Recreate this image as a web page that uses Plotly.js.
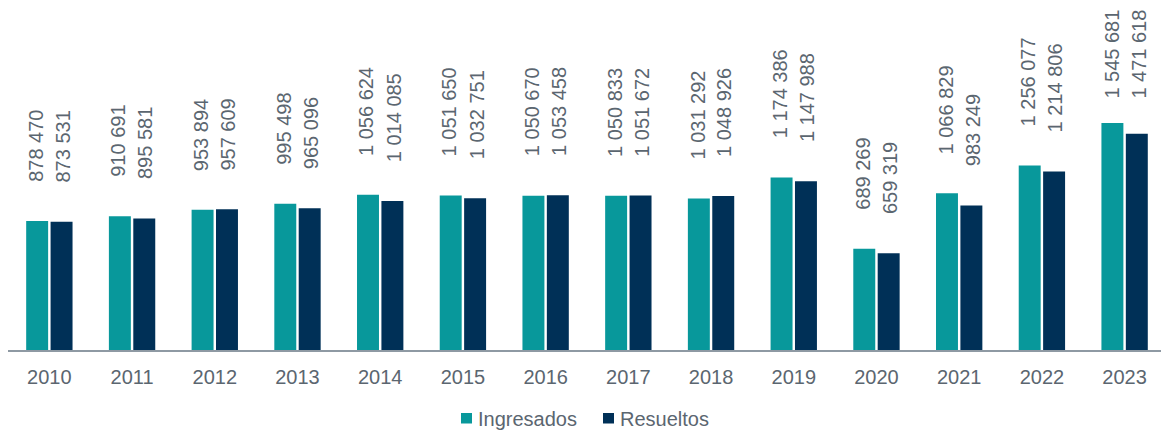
<!DOCTYPE html>
<html>
<head>
<meta charset="utf-8">
<script src="https://cdn.plot.ly/plotly-3.0.1.min.js"></script>
<style>html,body{margin:0;padding:0;background:#fff;}#chart{width:1161px;height:434px;}</style>
</head>
<body>
<div id="chart"></div>
<script>
const years = ['2010','2011','2012','2013','2014','2015','2016','2017','2018','2019','2020','2021','2022','2023'];
const ingresados = [878470, 910691, 953894, 995498, 1056624, 1051650, 1050670, 1050833, 1031292, 1174386, 689269, 1066829, 1256077, 1545681];
const resueltos = [873531, 895581, 957609, 965096, 1014085, 1032751, 1053458, 1051672, 1048926, 1147988, 659319, 983249, 1214806, 1471618];
const seriesNames = ['Ingresados', 'Resueltos'];

const colors = ['#08989b', '#003057'];
const textColor = '#5b6670';
const FONT = 'Liberation Sans, Arial, sans-serif';
const W = 1161, ML = 8, PW = W - ML, plotH = 350;
const yMax = 2382600;

function fmt(v) {
  return String(v).replace(/\B(?=(\d{3})+(?!\d))/g, ' ');
}
function textLen(s) {
  let w = 0;
  for (const c of s) w += (c === ' ') ? 0.278 : 0.556;
  return w * 20;
}
const px2x = p => (p - ML) / PW;
const px2y = p => (plotH - p) / plotH;

const annotations = [];
const shapes = [];
[ingresados, resueltos].forEach((vals, si) => {
  vals.forEach((v, i) => {
    const s = fmt(v);
    const barTop = plotH - v / yMax * plotH;
    const gap = 37;
    const top = barTop - gap - textLen(s);
    const base = {
      x: i, xref: 'x', xshift: si === 0 ? -13.5 : 13.5,
      text: s, textangle: -90, showarrow: false,
      font: {family: FONT, size: 20, color: textColor},
      xanchor: 'center'
    };
    if (top < 10) {
      annotations.push(Object.assign(base, {y: 1, yref: 'paper', yanchor: 'top', yshift: -8}));
    } else {
      annotations.push(Object.assign(base, {y: v, yref: 'y', yanchor: 'bottom', yshift: gap}));
    }
  });
});

// custom legend
const legendItems = [{mx: 461, tx: 476}, {mx: 603, tx: 618}];
legendItems.forEach((it, si) => {
  shapes.push({type: 'rect', xref: 'paper', yref: 'paper',
    x0: px2x(it.mx), x1: px2x(it.mx + 11), y0: px2y(423.5), y1: px2y(413),
    fillcolor: colors[si], line: {width: 0}});
  annotations.push({xref: 'paper', yref: 'paper', x: px2x(it.tx), y: px2y(418.5),
    xanchor: 'left', yanchor: 'middle', showarrow: false, text: seriesNames[si],
    font: {family: FONT, size: 20, color: textColor}});
});

const traces = [ingresados, resueltos].map((vals, si) => ({
  type: 'bar', x: years, y: vals, name: seriesNames[si],
  marker: {color: colors[si]}, hoverinfo: 'skip'
}));

const layout = {
  width: W, height: 434,
  margin: {l: ML, r: 0, t: 0, b: 434 - plotH},
  paper_bgcolor: '#fff', plot_bgcolor: '#fff',
  barmode: 'group', bargap: 0.41, bargroupgap: 0.1,
  showlegend: false,
  xaxis: {type: 'category', range: [-0.5, 13.44], showgrid: false, zeroline: false,
    showline: true, linecolor: '#8e99a3', linewidth: 2, ticks: '', ticklabelstandoff: 8,
    tickfont: {family: FONT, size: 20, color: textColor},
    fixedrange: true},
  yaxis: {range: [0, yMax], visible: false, showgrid: false, zeroline: false, fixedrange: true},
  annotations: annotations,
  shapes: shapes,
  font: {family: FONT}
};

Plotly.newPlot('chart', traces, layout, {displayModeBar: false, staticPlot: true});
</script>
</body>
</html>
